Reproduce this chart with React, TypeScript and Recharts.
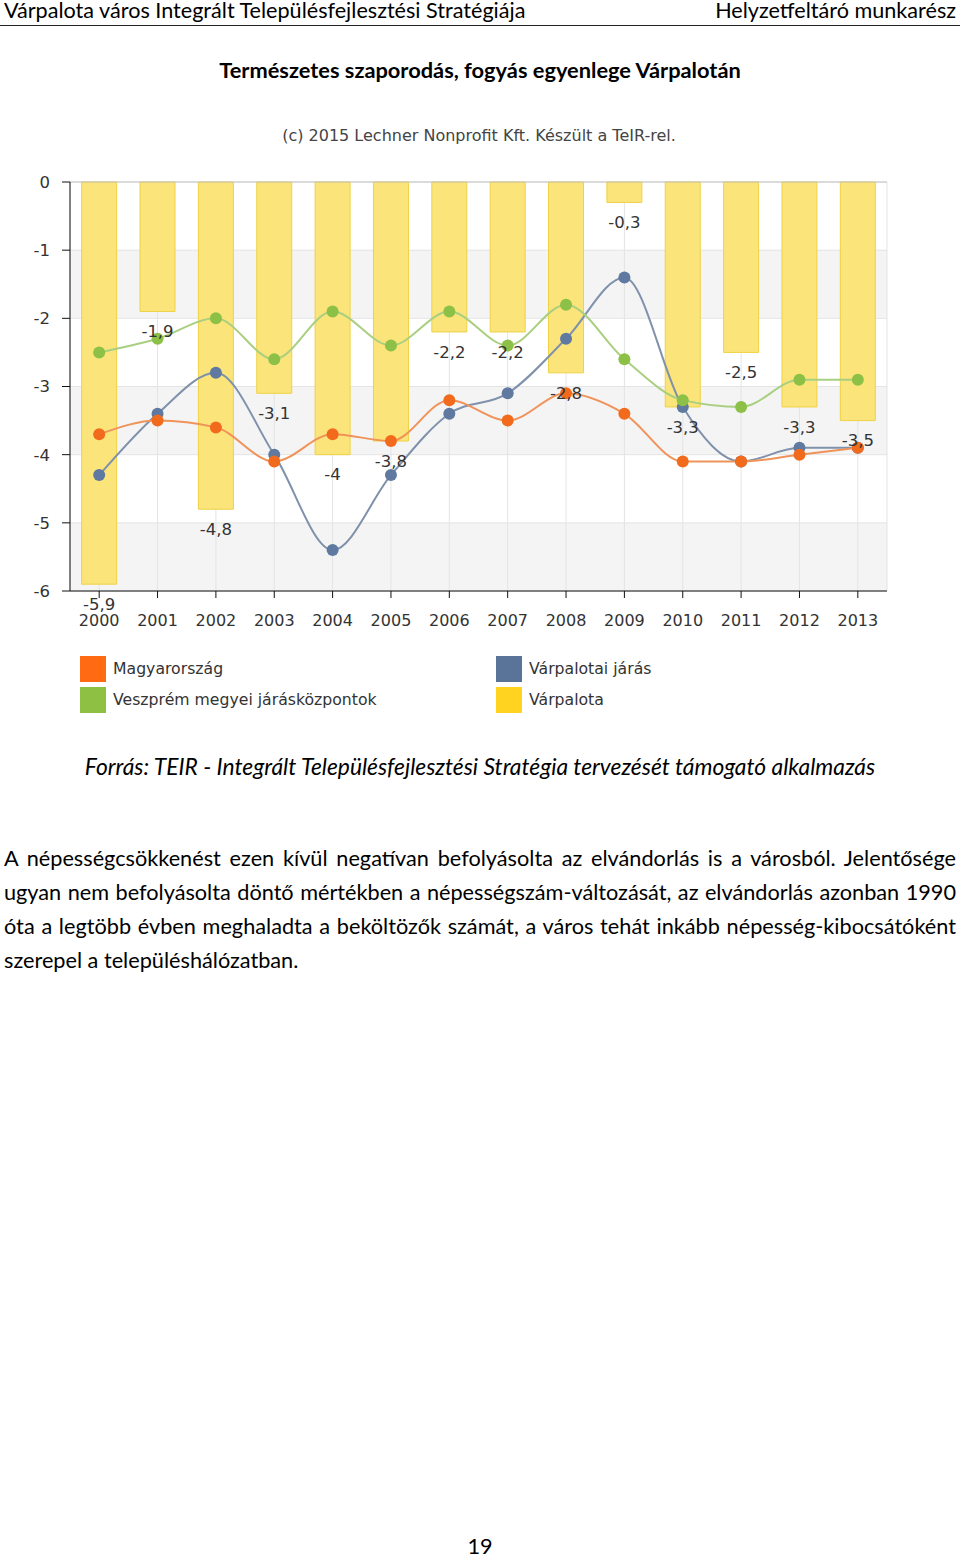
import type { CSSProperties } from "react";
import {
  Bar,
  CartesianGrid,
  ComposedChart,
  LabelList,
  Line,
  ReferenceLine,
  XAxis,
  YAxis,
} from "recharts";

const years = ["2000", "2001", "2002", "2003", "2004", "2005", "2006", "2007", "2008", "2009", "2010", "2011", "2012", "2013"];
const magyarorszag = [-3.7, -3.5, -3.6, -4.1, -3.7, -3.8, -3.2, -3.5, -3.1, -3.4, -4.1, -4.1, -4.0, -3.9];
const veszpremKozpontok = [-2.5, -2.3, -2.0, -2.6, -1.9, -2.4, -1.9, -2.4, -1.8, -2.6, -3.2, -3.3, -2.9, -2.9];
const varpalotaiJaras = [-4.3, -3.4, -2.8, -4.0, -5.4, -4.3, -3.4, -3.1, -2.3, -1.4, -3.3, -4.1, -3.9, -3.9];
const varpalota = [-5.9, -1.9, -4.8, -3.1, -4.0, -3.8, -2.2, -2.2, -2.8, -0.3, -3.3, -2.5, -3.3, -3.5];
const yTicks = [0, -1, -2, -3, -4, -5, -6];

const legendItems = [
  { name: "Magyarország", color: "#ff6a13", left: 80, top: 656 },
  { name: "Veszprém megyei járásközpontok", color: "#8dc043", left: 80, top: 687 },
  { name: "Várpalotai járás", color: "#5a7399", left: 496, top: 656 },
  { name: "Várpalota", color: "#ffd31f", left: 496, top: 687 },
];

const paragraphLines = [
  "A népességcsökkenést ezen kívül negatívan befolyásolta az elvándorlás is a városból. Jelentősége",
  "ugyan nem befolyásolta döntő mértékben a népességszám-változását, az elvándorlás azonban 1990",
  "óta a legtöbb évben meghaladta a beköltözők számát, a város tehát inkább népesség-kibocsátóként",
  "szerepel a településhálózatban.",
];

const rows = years.map((year, i) => ({
  year,
  magyarorszag: magyarorszag[i],
  veszprem: veszpremKozpontok[i],
  jaras: varpalotaiJaras[i],
  varpalota: varpalota[i],
}));

const comma = (v: unknown) => String(v).replace(".", ",");

const docFont = "Lato, 'Open Sans', sans-serif";
const chartFont = "'DejaVu Sans', Verdana, sans-serif";

function textAt(top: number, h: number, extra: CSSProperties): CSSProperties {
  return { position: "absolute", top: top - h / 2, height: h, lineHeight: `${h}px`, whiteSpace: "nowrap", ...extra };
}

export default function App() {
  return (
    <div style={{ position: "absolute", left: 0, top: 0, width: 960, height: 1557, background: "#fff", color: "#000", fontFamily: docFont }}>
      <div style={textAt(10, 26, { left: 4, fontSize: 21.6 })}>
        Várpalota város Integrált Településfejlesztési Stratégiája
      </div>
      <div style={textAt(10, 26, { right: 4, fontSize: 21.6 })}>Helyzetfeltáró munkarész</div>
      <div style={{ position: "absolute", left: 0, top: 25, width: 960, height: 1, background: "#222" }} />

      <div style={textAt(70, 28, { left: 0, width: 960, textAlign: "center", fontSize: 21.8, fontWeight: 700 })}>
        Természetes szaporodás, fogyás egyenlege Várpalotán
      </div>

      <div style={textAt(136, 22, { left: 0, width: 958, textAlign: "center", fontSize: 16, color: "#444", fontFamily: chartFont })}>
        (c) 2015 Lechner Nonprofit Kft. Készült a TeIR-rel.
      </div>

      <div style={{ position: "absolute", left: 0, top: 100, fontFamily: chartFont }}>
        <ComposedChart
          width={960}
          height={620}
          data={rows}
          margin={{ top: 82, right: 73, bottom: 89, left: 20 }}
          barCategoryGap="20%"
        >
          <CartesianGrid horizontalFill={["#ffffff", "#f4f4f4"]} stroke="#e4e4e4" />
          <ReferenceLine y={0} stroke="#c4c4c4" />
          <XAxis
            dataKey="year"
            height={40}
            stroke="#111"
            tickSize={7}
            tickMargin={17}
            tick={{ fill: "#333", fontSize: 16 }}
          />
          <YAxis
            type="number"
            domain={[-6, 0]}
            ticks={yTicks}
            width={50}
            stroke="#111"
            tickSize={8}
            tickMargin={12}
            tick={{ fill: "#333", fontSize: 16.5 }}
          />
          <Bar dataKey="varpalota" fill="#fbe47a" stroke="#efd244" strokeWidth={1} isAnimationActive={false}>
            <LabelList dataKey="varpalota" position="top" offset={14} formatter={comma} fill="#333" fontSize={16.5} />
          </Bar>
          <Line
            type="monotone"
            dataKey="jaras"
            stroke="#7f91ab"
            strokeWidth={2}
            dot={{ r: 6, fill: "#5f79a0", stroke: "none" }}
            isAnimationActive={false}
          />
          <Line
            type="monotone"
            dataKey="magyarorszag"
            stroke="#f0935a"
            strokeWidth={2}
            dot={{ r: 6, fill: "#f26b1d", stroke: "none" }}
            isAnimationActive={false}
          />
          <Line
            type="monotone"
            dataKey="veszprem"
            stroke="#a9cf80"
            strokeWidth={2}
            dot={{ r: 6, fill: "#8dc046", stroke: "none" }}
            isAnimationActive={false}
          />
        </ComposedChart>
      </div>

      {legendItems.map((it) => (
        <div key={it.name}>
          <div style={{ position: "absolute", left: it.left, top: it.top, width: 26, height: 26, background: it.color }} />
          <div style={textAt(it.top + 13, 22, { left: it.left + 33, fontSize: 15.7, color: "#333", fontFamily: chartFont })}>
            {it.name}
          </div>
        </div>
      ))}

      <div style={textAt(766, 28, { left: 0, width: 960, textAlign: "center", fontSize: 22.8, fontStyle: "italic" })}>
        Forrás: TEIR - Integrált Településfejlesztési Stratégia tervezését támogató alkalmazás
      </div>

      {paragraphLines.map((line, i) => {
        const last = i === paragraphLines.length - 1;
        return (
          <div
            key={i}
            style={textAt(858 + i * 34, 30, {
              left: 4,
              width: 952,
              fontSize: 21.7,
              textAlign: last ? "left" : "justify",
              textAlignLast: last ? "left" : "justify",
              whiteSpace: "normal",
            })}
          >
            {line}
          </div>
        );
      })}

      <div style={textAt(1546, 26, { left: 0, width: 960, textAlign: "center", fontSize: 21.7 })}>19</div>
    </div>
  );
}
